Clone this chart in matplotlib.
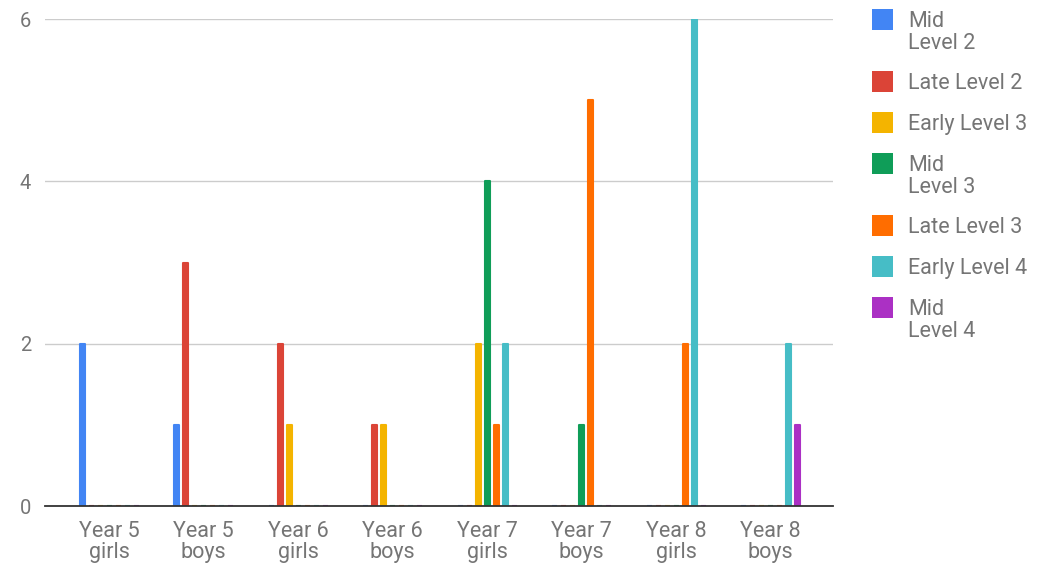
import matplotlib.pyplot as plt
from matplotlib.patches import Rectangle
import numpy as np

plt.rcParams['font.family'] = ['Roboto', 'DejaVu Sans']

# data
groups = ["Year 5\ngirls", "Year 5\nboys", "Year 6\ngirls", "Year 6\nboys",
          "Year 7\ngirls", "Year 7\nboys", "Year 8\ngirls", "Year 8\nboys"]
series = ["Mid\nLevel 2", "Late Level 2", "Early Level 3", "Mid\nLevel 3",
          "Late Level 3", "Early Level 4", "Mid\nLevel 4"]
mid_l2 = [2, 1, 0, 0, 0, 0, 0, 0]
late_l2 = [0, 3, 2, 1, 0, 0, 0, 0]
early_l3 = [0, 0, 1, 1, 2, 0, 0, 0]
mid_l3 = [0, 0, 0, 0, 4, 1, 0, 0]
late_l3 = [0, 0, 0, 0, 1, 5, 2, 0]
early_l4 = [0, 0, 0, 0, 2, 0, 6, 2]
mid_l4 = [0, 0, 0, 0, 0, 0, 0, 1]
values = [mid_l2, late_l2, early_l3, mid_l3, late_l3, early_l4, mid_l4]
colors = ["#4285F4", "#DB4437", "#F4B400", "#0F9D58", "#FF6D00", "#46BDC6", "#AB30C4"]

fig = plt.figure(figsize=(10.54, 5.64), dpi=100)
ax = fig.add_axes([0.0427, 0.1028, 0.7476, 0.8635])

x = np.arange(len(groups))
step = 0.0953
for k, (vals, c) in enumerate(zip(values, colors)):
    # thin bars, edge with round joins to soften the top corners
    ax.bar(x + (k - 3) * step, vals, width=0.055, color=c, edgecolor=c,
           linewidth=1.5, joinstyle='round', zorder=3)

ax.set_xlim(-0.68, 7.66)
ax.set_ylim(0, 6)
ax.set_yticks([0, 2, 4, 6])
ax.set_xticks(x)
ax.set_xticklabels(groups, linespacing=1.0)
ax.tick_params(axis='both', length=0, colors='#757575')
ax.tick_params(axis='x', labelsize=15.5, pad=11)
ax.tick_params(axis='y', labelsize=14.5, pad=10)
ax.grid(axis='y', color='#cccccc', linewidth=1, zorder=0)
for s in ['top', 'right', 'left']:
    ax.spines[s].set_visible(False)
ax.spines['bottom'].set_color('#333333')
ax.spines['bottom'].set_linewidth(1.3)
ax.spines['bottom'].set_zorder(4)

# legend on the right, drawn by hand so the square sits on the first line
W, H = 1054, 564
ytop = 9
for lab, c in zip(series, colors):
    fig.patches.append(Rectangle((872 / W, 1 - (ytop + 21) / H), 21 / W, 21 / H,
                                 transform=fig.transFigure, facecolor=c,
                                 edgecolor='none'))
    fig.text(908 / W, 1 - (ytop + 2) / H, lab, fontsize=15.5, color='#757575',
             va='top', ha='left', linespacing=1.05)
    ytop += 62 if '\n' in lab else 41

fig.savefig("out.png", dpi=100)
